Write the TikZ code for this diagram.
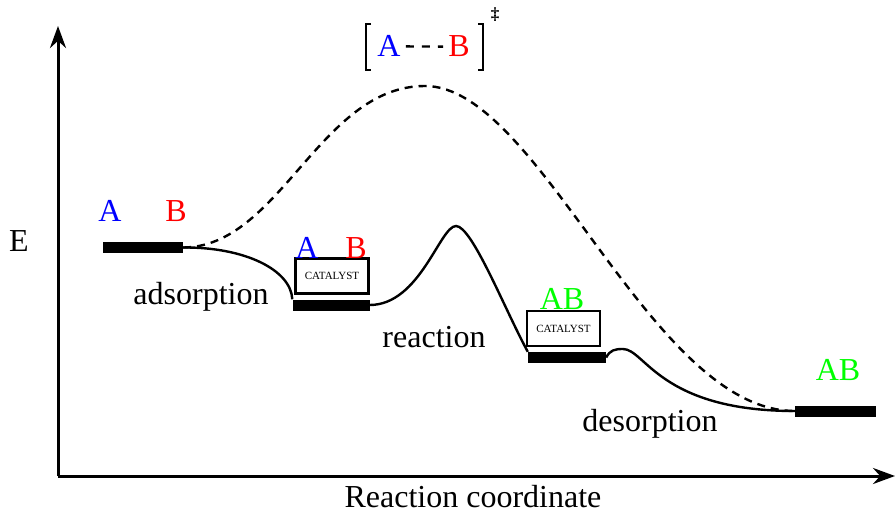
\documentclass[tikz,border=0pt]{standalone}
\usepackage{fontspec}
\setmainfont{Liberation Serif}
\usetikzlibrary{arrows.meta}
\tikzset{
  lbl/.style={font=\fontsize{32}{36}\selectfont, anchor=base, inner sep=0pt},
  level/.style={fill=black, minimum height=11pt, inner sep=0pt},
  catbox/.style={draw, line width=2.4pt, minimum width=73pt, minimum height=35pt, inner sep=0pt, font=\fontsize{11}{13}\selectfont},
  curve/.style={line width=2.4pt},
  axis/.style={line width=3pt, -{Stealth[length=22pt, width=16pt]}}
}
\begin{document}
\begin{tikzpicture}[x=1pt,y=-1pt]
        \useasboundingbox (0,0) rectangle (896,513);
        \coordinate (o) at (58,476);
        \coordinate (ytop) at (58,26);
        \coordinate (xend) at (895,476);
        \draw[axis] (o) -- (ytop);
        \draw[axis] (o) -- (xend);
        \node[level, minimum width=80pt] (l1) at (143,247.5) {};
        \node[level, minimum width=77pt] (l2) at (331,305) {};
        \node[level, minimum width=78pt] (l3) at (567,357.5) {};
        \node[level, minimum width=81pt] (l4) at (835.5,411) {};
        \node[catbox] (cat1) at (332,276) {CATALYST};
        \node[catbox] (cat2) at (563.5,328.5) {CATALYST};
        \node[lbl, blue] (a1) at (110,221) {A};
        \node[lbl, red] (b1) at (176,221) {B};
        \node[lbl, blue] (a2) at (307,258) {A};
        \node[lbl, red] (b2) at (356,258) {B};
        \node[lbl, green] (ab3) at (562,309) {AB};
        \node[lbl, green] (ab4) at (838,380) {AB};
        \node[lbl] (e) at (19,251) {E};
        \node[lbl] (xlab) at (473,507) {Reaction coordinate};
        \node[lbl] (ads) at (201,304) {adsorption};
        \node[lbl] (rea) at (434,347) {reaction};
        \node[lbl] (des) at (650,431) {desorption};
        \node[lbl, blue] (tsa) at (389,57) {A};
        \node[lbl, red] (tsb) at (459,57) {B};
        \node[font=\fontsize{17}{18}\selectfont\bfseries, inner sep=0pt] (dag) at (495,15) {\ddag};
        \draw[line width=2.4pt, dash pattern=on 8pt off 8pt] ([xshift=5pt]tsa.east) -- ([xshift=-5pt]tsb.west);
        \draw[line width=2.6pt] (371,24) -| (366,70) -- (371,70);
        \draw[line width=2.6pt] (478,24) -| (483,70) -- (478,70);
        \coordinate (ts1) at (456,226);
        \coordinate (ts2) at (425,86);
        \coordinate (bump) at (623,349);
        \draw[curve] (l1.east) .. controls (245,247) and (291,270) .. (l2.north west);
        \draw[curve] (l2.east) .. controls (420,305) and (440,226) .. (ts1) .. controls (472,226) and (505,310) .. (l3.north west);
        \draw[curve] (l3.east) .. controls (610,350) and (615,349) .. (bump) .. controls (645,349) and (660,411) .. (l4.west);
        \draw[curve, dash pattern=on 8pt off 6pt] (l1.east) .. controls (280,247) and (320,86) .. (ts2) .. controls (540,86) and (650,411) .. (l4.west);
\end{tikzpicture}
\end{document}
